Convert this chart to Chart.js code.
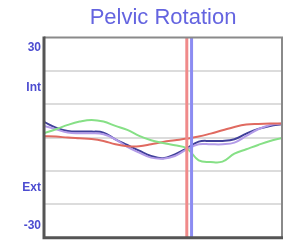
<!DOCTYPE html>
<html>
<head>
<meta charset="utf-8">
<script src="https://cdn.jsdelivr.net/npm/chart.js@4.4.0/dist/chart.umd.min.js"></script>
<style>
  html, body { margin: 0; padding: 0; background: #fff; }
  #wrap { width: 287px; height: 248px; }
</style>
</head>
<body>
<div id="wrap"><canvas id="myChart" width="287" height="248"></canvas></div>
<script>
// % of gait cycle
const cycle = [0, 5, 10, 15, 20, 25, 30, 35, 40, 45, 50, 55, 60, 65, 70, 75, 80, 85, 90, 95, 100]

const redSeries = [0.4, 0.3, 0, -0.2, -0.4, -1, -2, -2.6, -2.6, -2, -1.3, -0.8, -0.3, 0.3, 1.2, 2.2, 3.2, 3.9, 4.1, 4.2, 4.2]
const navySeries = [4.7, 3, 2, 1.8, 1.8, 1.5, -0.5, -2.2, -3.9, -5.5, -6.2, -5, -3.2, -1.2, -1, -1, -0.5, 1.2, 2.6, 3.5, 4]
const lavenderSeries = [3.5, 2.5, 1.5, 1.3, 1.3, 1, -0.5, -2.8, -4.5, -6, -6.3, -5.5, -3.5, -2, -2, -2, -1.5, 0.5, 2.5, 3.8, 4.2]
const greenSeries = [1.3, 2.5, 3.8, 4.8, 5.3, 4.8, 3.5, 2.3, 0.5, -0.8, -1.6, -2.3, -3.2, -6.8, -7.3, -7.2, -4.8, -3.5, -2.2, -1, -0.1]

// toe-off markers
const redToeOff = 60
const blueToeOff = 62

const yMin = -30
const yMax = 30
const gridValues = [20, 10, 0, -10, -20]
const tickLabels = new Map([[27, '30'], [15, 'Int'], [-15, 'Ext'], [-26.5, '-30']])

const toPoints = (ys) => ys.map((y, i) => ({ x: cycle[i], y: y }))
const marker = (x) => [{ x: x, y: yMin }, { x: x, y: yMax }]

const curve = (label, data, color) => ({
  label: label,
  data: toPoints(data),
  borderColor: color,
  borderWidth: 2,
  pointRadius: 0,
  tension: 0.4,
  order: 1
})

const frame = {
  id: 'frame',
  afterDatasetsDraw(chart) {
    const { ctx, chartArea: a } = chart
    ctx.save()
    ctx.lineWidth = 2
    ctx.strokeStyle = '#8a8a8a'
    ctx.beginPath()
    ctx.moveTo(a.left, a.top)
    ctx.lineTo(a.right, a.top)
    ctx.lineTo(a.right, a.bottom)
    ctx.stroke()
    ctx.lineWidth = 3
    ctx.strokeStyle = '#555'
    ctx.beginPath()
    ctx.moveTo(a.left, a.top - 1)
    ctx.lineTo(a.left, a.bottom)
    ctx.lineTo(a.right + 1, a.bottom)
    ctx.stroke()
    ctx.restore()
  }
}

new Chart('myChart', {
  type: 'line',
  data: {
    datasets: [
      curve('green', greenSeries, '#86e086'),
      curve('red', redSeries, '#e06a60'),
      curve('lavender', lavenderSeries, '#b39be8'),
      curve('navy', navySeries, '#40409a'),
      { label: 'red toe off', data: marker(redToeOff), borderColor: '#f08a8a', borderWidth: 3, pointRadius: 0, order: 0 },
      { label: 'blue toe off', data: marker(blueToeOff), borderColor: '#8c8cf2', borderWidth: 3, pointRadius: 0, order: 0 }
    ]
  },
  options: {
    responsive: false,
    animation: false,
    layout: { padding: { left: 0, right: 5, top: 0, bottom: 2 } },
    plugins: {
      legend: { display: false },
      tooltip: { enabled: false },
      title: {
        display: true,
        text: 'Pelvic Rotation',
        fullSize: false,
        color: '#6464e0',
        font: { family: 'Liberation Sans', size: 22, weight: 'normal' },
        padding: { top: 5, bottom: 6 }
      }
    },
    scales: {
      x: { type: 'linear', min: 0, max: 100, display: false },
      y: {
        min: yMin,
        max: yMax,
        afterFit: (scale) => { scale.width = 44 },
        afterBuildTicks: (scale) => {
          scale.ticks = [27, 20, 15, 10, 0, -10, -15, -20, -26.5].map((v) => ({ value: v }))
        },
        border: { display: false },
        grid: {
          drawTicks: false,
          lineWidth: 2,
          color: (c) => gridValues.includes(c.tick.value) ? '#dcdcdc' : 'rgba(0,0,0,0)'
        },
        ticks: {
          padding: 3,
          color: '#4c4cd0',
          font: { family: 'Liberation Sans', size: 12, weight: 'bold' },
          callback: (v) => tickLabels.get(v) || ''
        }
      }
    }
  },
  plugins: [frame]
})
</script>
</body>
</html>
